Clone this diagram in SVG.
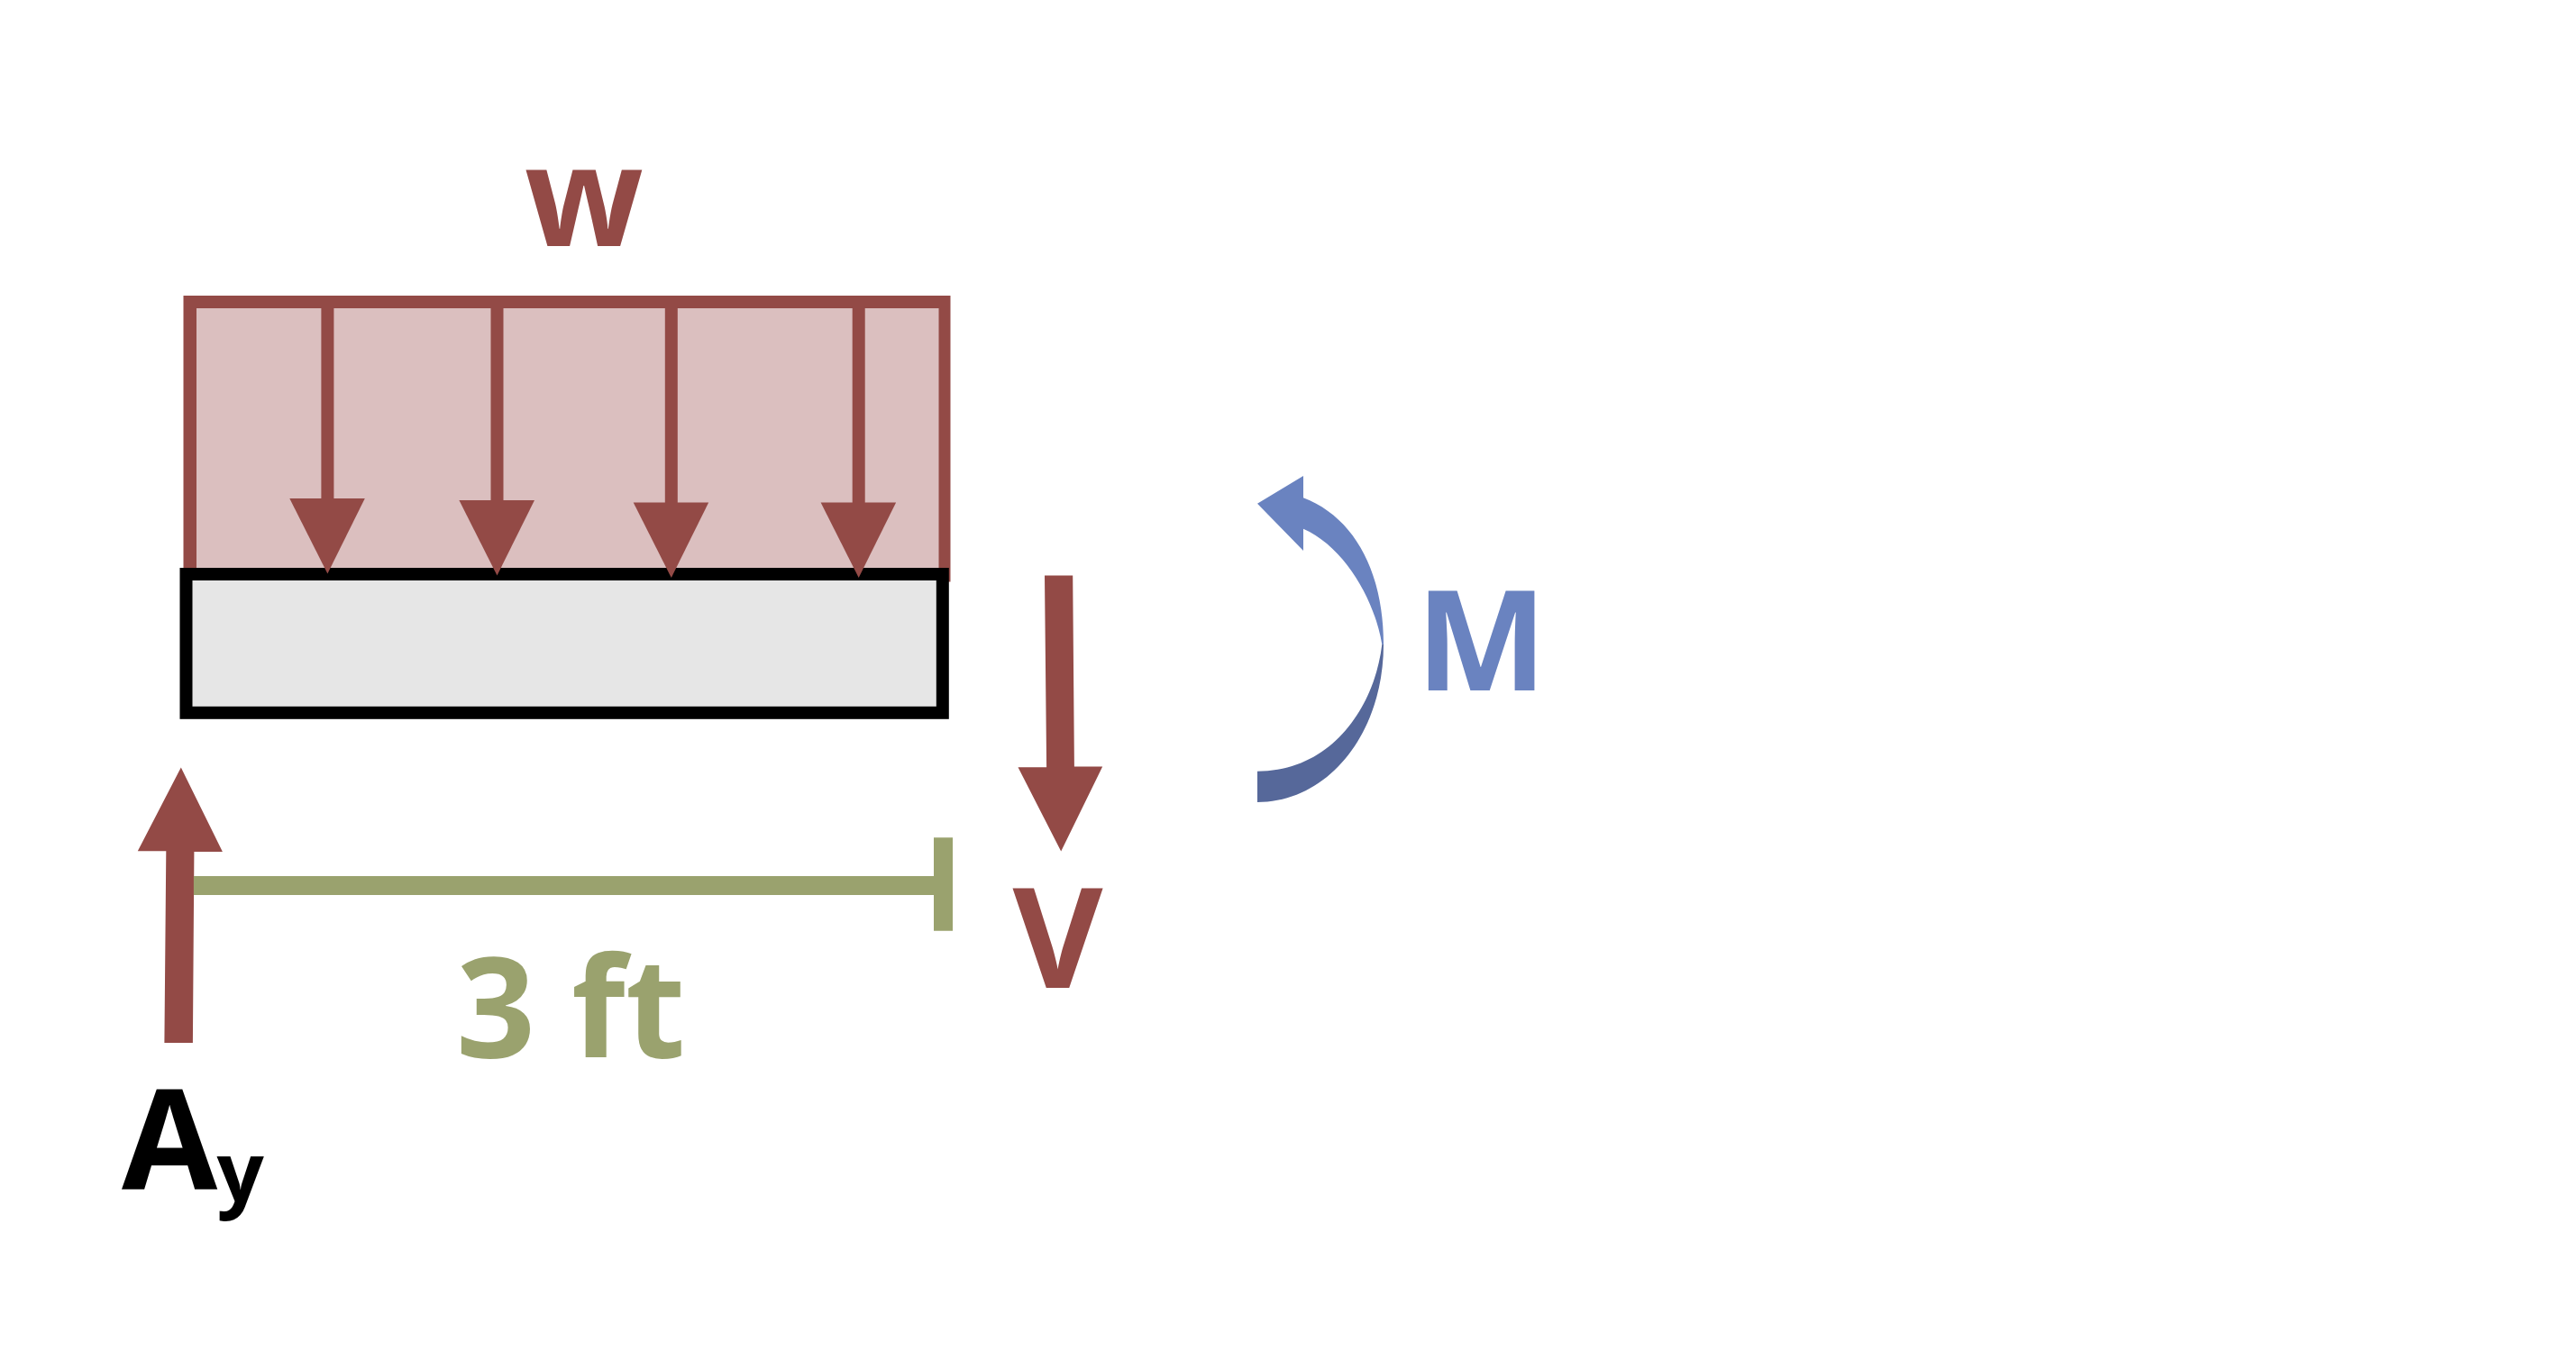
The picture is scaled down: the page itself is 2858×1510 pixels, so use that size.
<svg xmlns="http://www.w3.org/2000/svg" width="2858" height="1510" viewBox="0 0 2858 1510">
<style>
.t{font-family:"Open Sans","Liberation Sans",sans-serif;font-weight:700}
.r{fill:#934a46}
.g{fill:#9aa26e}
.b{fill:#6a83c0}
.s{stroke:#934a46;stroke-width:14;fill:none}
</style>
<rect width="2858" height="1510" fill="#ffffff"/>
<g id="load">
<rect x="203.5" y="328" width="851" height="317.500" fill="#934a46"/>
<rect x="218" y="342" width="823.500" height="295" fill="#dbbfbf"/>
</g>
<g id="beam">
<rect x="206.500" y="637" width="839.300" height="153.800" fill="#e6e6e6" stroke="#000000" stroke-width="14"/>
</g>
<g id="connectors">
<path class="s" d="M363.400 340V556"/>
<path class="r" d="M321.300 553H404.800L363.400 636.600Z"/>
<path class="s" d="M551.500 340V558"/>
<path class="r" d="M509.400 555H593L551.500 638.400Z"/>
<path class="s" d="M744.800 340V560"/>
<path class="r" d="M702.700 557.600H786.200L744.800 641Z"/>
<path class="s" d="M952.700 340V560"/>
<path class="r" d="M910.600 557.600H994.100L952.700 641Z"/>
<path class="r" d="M1159 638.400H1190.200L1191.900 850.400H1223.200L1177.200 944.600L1129.500 851.300H1161.100Z"/>
<path class="r" d="M200.800 851.400L246.900 945H215.400L213.900 1157H182.400L184.300 944.300H152.800Z"/>
<path class="g" d="M214.900 972H1036V929.300H1057V1032.700H1036V993H214.900Z"/>
<path class="b" d="M1395 558.700L1446 528V552.300C1503 574 1535 635 1535 715H1533.300C1525 665 1492 607 1446 586.700V611Z"/>
<path fill="#56689a" d="M1533.300 715C1525 785 1477 855.700 1395 855.700V890C1475 890 1535 812 1535 715Z"/>
</g>
<g id="label-w"><text class="t r" x="582" y="273" font-size="154">w</text></g>
<g id="label-v"><text class="t r" x="1123.500" y="1096" font-size="154">V</text></g>
<g id="label-m"><text class="t b" x="1571" y="766" font-size="154">M</text></g>
<g id="label-3ft"><text class="t g" x="506" y="1172.500" font-size="154">3 ft</text></g>
<g id="label-ay"><text class="t" x="135" y="1318.600" font-size="154" fill="#000000">A</text><text class="t" x="240.600" y="1332.500" font-size="92" fill="#000000">y</text></g>
</svg>
